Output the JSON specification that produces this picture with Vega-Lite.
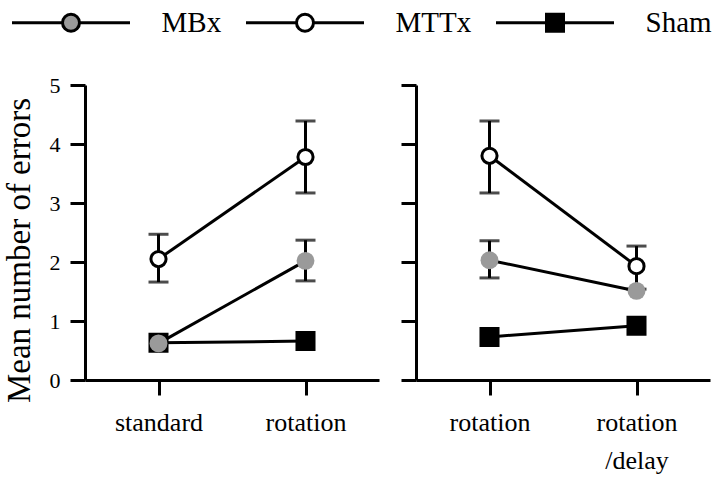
{
  "$schema": "https://vega.github.io/schema/vega-lite/v6.json",
  "padding": {"left": 3, "top": 8, "right": 2, "bottom": 5},
  "background": "white",
  "config": {
    "font": "Liberation Serif",
    "view": {"stroke": null},
    "axis": {
      "domainColor": "black", "domainWidth": 3, "tickColor": "black", "tickWidth": 3, "tickSize": 15,
      "labelColor": "black", "grid": false, "labelFont": "Liberation Serif", "titleFont": "Liberation Serif",
      "titleColor": "black", "titleFontWeight": "normal"
    }
  },
  "datasets": {
    "means": [
      {"panel": "A", "cond": "standard", "group": "Sham", "mean": 0.63},
      {"panel": "A", "cond": "rotation", "group": "Sham", "mean": 0.66},
      {"panel": "A", "cond": "standard", "group": "MBx", "mean": 0.62},
      {"panel": "A", "cond": "rotation", "group": "MBx", "mean": 2.02},
      {"panel": "A", "cond": "standard", "group": "MTTx", "mean": 2.05},
      {"panel": "A", "cond": "rotation", "group": "MTTx", "mean": 3.78},
      {"panel": "B", "cond": "rotation", "group": "Sham", "mean": 0.73},
      {"panel": "B", "cond": "rotation/delay", "group": "Sham", "mean": 0.92},
      {"panel": "B", "cond": "rotation", "group": "MBx", "mean": 2.03},
      {"panel": "B", "cond": "rotation/delay", "group": "MBx", "mean": 1.51},
      {"panel": "B", "cond": "rotation", "group": "MTTx", "mean": 3.8},
      {"panel": "B", "cond": "rotation/delay", "group": "MTTx", "mean": 1.93}
    ],
    "errs": [
      {"panel": "A", "cond": "standard", "group": "MTTx", "lo": 1.66, "hi": 2.47},
      {"panel": "A", "cond": "rotation", "group": "MTTx", "lo": 3.17, "hi": 4.39},
      {"panel": "A", "cond": "rotation", "group": "MBx", "lo": 1.68, "hi": 2.37},
      {"panel": "B", "cond": "rotation", "group": "MTTx", "lo": 3.17, "hi": 4.39},
      {"panel": "B", "cond": "rotation", "group": "MBx", "lo": 1.73, "hi": 2.36},
      {"panel": "B", "cond": "rotation/delay", "group": "MTTx", "lo": 1.54, "hi": 2.27}
    ]
  },
  "spacing": 37,
  "bounds": "flush",
  "resolve": {"scale": {"x": "independent", "y": "independent", "fill": "shared"}},
  "hconcat": [
    {
      "width": 294, "height": 295,
      "layer": [
        {
          "data": {"name": "means"}, "transform": [{"filter": "datum.panel === 'A'"}],
          "mark": {"type": "line", "color": "black", "strokeWidth": 3},
          "encoding": {
            "x": {"field": "cond", "type": "nominal", "sort": ["standard", "rotation"], "scale": {"type": "point", "padding": 0.5, "domain": ["standard", "rotation"]},
                  "axis": {"title": null, "labelFontSize": 26, "labelAngle": 0, "labelPadding": 14, "tickSize": 15}},
            "y": {"field": "mean", "type": "quantitative", "scale": {"domain": [0, 5]},
                  "axis": {"values": [0, 1, 2, 3, 4, 5], "format": "d", "title": "Mean number of errors", "titleFontSize": 33, "titleX": -56, "titleY": 165, "titleAngle": -90, "titleBaseline": "alphabetic", "titleAlign": "center", "labelFontSize": 22, "labelPadding": 10}},
            "detail": {"field": "group"}
          }
        },
        {
          "data": {"name": "errs"}, "transform": [{"filter": "datum.panel === 'A'"}],
          "mark": {"type": "rule", "color": "black", "strokeWidth": 3},
          "encoding": {
            "x": {"field": "cond", "type": "nominal"},
            "y": {"field": "lo", "type": "quantitative"},
            "y2": {"field": "hi"}
          }
        },
        {
          "data": {"name": "errs"}, "transform": [{"filter": "datum.panel === 'A'"}],
          "mark": {"type": "tick", "color": "black", "thickness": 3, "size": 20, "orient": "horizontal"},
          "encoding": {"x": {"field": "cond", "type": "nominal"}, "y": {"field": "lo", "type": "quantitative"}}
        },
        {
          "data": {"name": "errs"}, "transform": [{"filter": "datum.panel === 'A'"}],
          "mark": {"type": "tick", "color": "black", "thickness": 3, "size": 20, "orient": "horizontal"},
          "encoding": {"x": {"field": "cond", "type": "nominal"}, "y": {"field": "hi", "type": "quantitative"}}
        },
        {
          "data": {"name": "means"}, "transform": [{"filter": "datum.panel === 'A' && datum.group === 'Sham'"}],
          "mark": {"type": "point", "shape": "square", "size": 290, "strokeWidth": 3, "stroke": "black", "opacity": 1},
          "encoding": {
            "x": {"field": "cond", "type": "nominal"},
            "y": {"field": "mean", "type": "quantitative"},
            "fill": {"field": "group", "type": "nominal", "scale": {"domain": ["MBx", "MTTx", "Sham"], "range": ["#9a9a9a", "white", "black"]},
              "legend": {
                "orient": "none", "legendX": -77.5, "legendY": -77, "direction": "horizontal", "columns": 3, "title": null,
                "symbolSize": 400, "symbolStrokeWidth": 3, "symbolStrokeColor": "black", "symbolOpacity": 1,
                "labelFont": "Liberation Serif", "labelFontSize": 29, "labelColor": "black", "labelOffset": 125, "columnPadding": 18, "padding": 0,
                "encode": {"symbols": {"update": {
                  "shape": {"signal": "datum.value === 'Sham' ? 'M-1,0H4.05M5.75,0H10.8M4.05,-0.85H5.75V0.85H4.05Z' : 'M-1,0H4.05M5.75,0H10.8M4.05,0A0.85,0.85,0,1,1,5.75,0A0.85,0.85,0,1,1,4.05,0Z'"},
                  "stroke": {"value": "black"}, "strokeWidth": {"value": 3}, "opacity": {"value": 1}, "fillOpacity": {"value": 1}
                }}}
              }}
          }
        },
        {
          "data": {"name": "means"}, "transform": [{"filter": "datum.panel === 'A' && datum.group === 'MBx'"}],
          "mark": {"type": "point", "shape": "circle", "size": 320, "strokeWidth": 0, "opacity": 1},
          "encoding": {
            "x": {"field": "cond", "type": "nominal"},
            "y": {"field": "mean", "type": "quantitative"},
            "fill": {"field": "group", "type": "nominal"}
          }
        },
        {
          "data": {"name": "means"}, "transform": [{"filter": "datum.panel === 'A' && datum.group === 'MTTx'"}],
          "mark": {"type": "point", "shape": "circle", "size": 230, "strokeWidth": 3, "stroke": "black", "opacity": 1},
          "encoding": {
            "x": {"field": "cond", "type": "nominal"},
            "y": {"field": "mean", "type": "quantitative"},
            "fill": {"field": "group", "type": "nominal"}
          }
        }
      ]
    },
    {
      "width": 294, "height": 295,
      "layer": [
        {
          "data": {"name": "means"}, "transform": [{"filter": "datum.panel === 'B'"}],
          "mark": {"type": "line", "color": "black", "strokeWidth": 3},
          "encoding": {
            "x": {"field": "cond", "type": "nominal", "sort": ["rotation", "rotation/delay"], "scale": {"type": "point", "padding": 0.5, "domain": ["rotation", "rotation/delay"]},
                  "axis": {"title": null, "labelFontSize": 26, "labelAngle": 0, "labelPadding": 14, "tickSize": 15, "labelLineHeight": 38,
                           "labelExpr": "datum.value === 'rotation/delay' ? ['rotation', '/delay'] : datum.value"}},
            "y": {"field": "mean", "type": "quantitative", "scale": {"domain": [0, 5]},
                  "axis": {"values": [0, 1, 2, 3, 4, 5], "title": null, "labels": false}},
            "detail": {"field": "group"}
          }
        },
        {
          "data": {"name": "errs"}, "transform": [{"filter": "datum.panel === 'B'"}],
          "mark": {"type": "rule", "color": "black", "strokeWidth": 3},
          "encoding": {
            "x": {"field": "cond", "type": "nominal"},
            "y": {"field": "lo", "type": "quantitative"},
            "y2": {"field": "hi"}
          }
        },
        {
          "data": {"name": "errs"}, "transform": [{"filter": "datum.panel === 'B'"}],
          "mark": {"type": "tick", "color": "black", "thickness": 3, "size": 20, "orient": "horizontal"},
          "encoding": {"x": {"field": "cond", "type": "nominal"}, "y": {"field": "lo", "type": "quantitative"}}
        },
        {
          "data": {"name": "errs"}, "transform": [{"filter": "datum.panel === 'B'"}],
          "mark": {"type": "tick", "color": "black", "thickness": 3, "size": 20, "orient": "horizontal"},
          "encoding": {"x": {"field": "cond", "type": "nominal"}, "y": {"field": "hi", "type": "quantitative"}}
        },
        {
          "data": {"name": "means"}, "transform": [{"filter": "datum.panel === 'B' && datum.group === 'Sham'"}],
          "mark": {"type": "point", "shape": "square", "size": 290, "strokeWidth": 3, "stroke": "black", "opacity": 1},
          "encoding": {
            "x": {"field": "cond", "type": "nominal"},
            "y": {"field": "mean", "type": "quantitative"},
            "fill": {"field": "group", "type": "nominal"}
          }
        },
        {
          "data": {"name": "means"}, "transform": [{"filter": "datum.panel === 'B' && datum.group === 'MBx'"}],
          "mark": {"type": "point", "shape": "circle", "size": 320, "strokeWidth": 0, "opacity": 1},
          "encoding": {
            "x": {"field": "cond", "type": "nominal"},
            "y": {"field": "mean", "type": "quantitative"},
            "fill": {"field": "group", "type": "nominal"}
          }
        },
        {
          "data": {"name": "means"}, "transform": [{"filter": "datum.panel === 'B' && datum.group === 'MTTx'"}],
          "mark": {"type": "point", "shape": "circle", "size": 230, "strokeWidth": 3, "stroke": "black", "opacity": 1},
          "encoding": {
            "x": {"field": "cond", "type": "nominal"},
            "y": {"field": "mean", "type": "quantitative"},
            "fill": {"field": "group", "type": "nominal"}
          }
        }
      ]
    }
  ]
}
